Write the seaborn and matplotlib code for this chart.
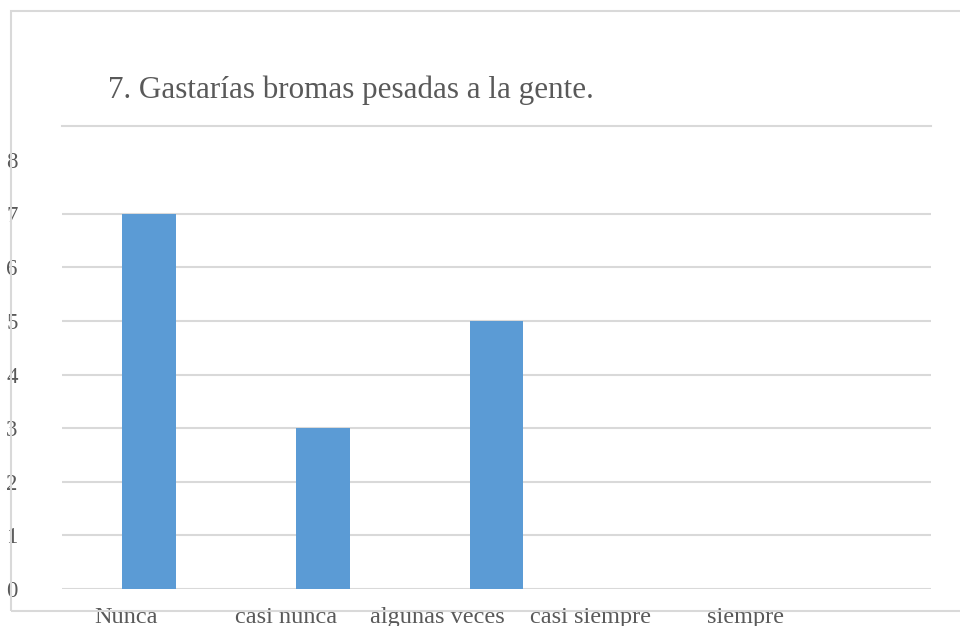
import matplotlib
matplotlib.use("Agg")
import matplotlib.pyplot as plt
import matplotlib.transforms as mtransforms
from matplotlib.patches import Rectangle
import seaborn as sns

# ---- data ----
categories = ["Nunca", "casi nunca", "algunas veces", "casi siempre", "siempre"]
counts = [7, 3, 5, 0, 0]
y_ticks = [0, 1, 2, 3, 4, 5, 6, 7, 8]
title = "7. Gastarías bromas pesadas a la gente."

# ---- style ----
BAR = "#5b9bd5"
GRID = "#d9d9d9"
TXT = "#595959"
label_shift_px = [-23, -37, -59, -80, -99]  # x labels sit left of their bars

sns.set_theme(style="white")
plt.rcParams["font.family"] = ["Liberation Serif", "DejaVu Serif"]

fig = plt.figure(figsize=(9.6, 6.26), dpi=100)
ax = fig.add_axes([62 / 960, 1 - 589 / 626, (931 - 62) / 960, (589 - 126) / 626])

sns.barplot(x=categories, y=counts, color=BAR, width=0.31, saturation=1,
            linewidth=0, ax=ax)

ax.set_ylim(0, 8.64)
ax.set_yticks(y_ticks)
ax.set_xlim(-0.5, len(categories) - 0.5)
ax.grid(axis="y", color=GRID, linewidth=1.5)
ax.set_axisbelow(True)
# no gridline at 8 in the original, only the frame line above
ax.yaxis.get_gridlines()[-1].set_visible(False)

for side in ["left", "right", "bottom"]:
    ax.spines[side].set_visible(False)
ax.spines["top"].set_color(GRID)
ax.spines["top"].set_linewidth(1.5)

ax.tick_params(axis="y", length=0, pad=32, labelsize=16.5, labelcolor=TXT)
ax.tick_params(axis="x", length=0, pad=13, labelsize=17.5, labelcolor=TXT)
ax.set_xlabel("")
ax.set_ylabel("")

for lab, dx in zip(ax.get_xticklabels(), label_shift_px):
    lab.set_transform(lab.get_transform() + mtransforms.ScaledTranslation(dx / 100, 0, fig.dpi_scale_trans))

fig.text(108 / 960, 1 - 90 / 626, title, fontsize=22.4, color=TXT, ha="left", va="center")

# chart frame (runs off the right edge)
fig.add_artist(Rectangle((11 / 960, 1 - 611 / 626), 1.0, (611 - 11) / 626,
                         transform=fig.transFigure, fill=False, edgecolor=GRID, linewidth=1.5))

fig.savefig("out.png", dpi=100)
